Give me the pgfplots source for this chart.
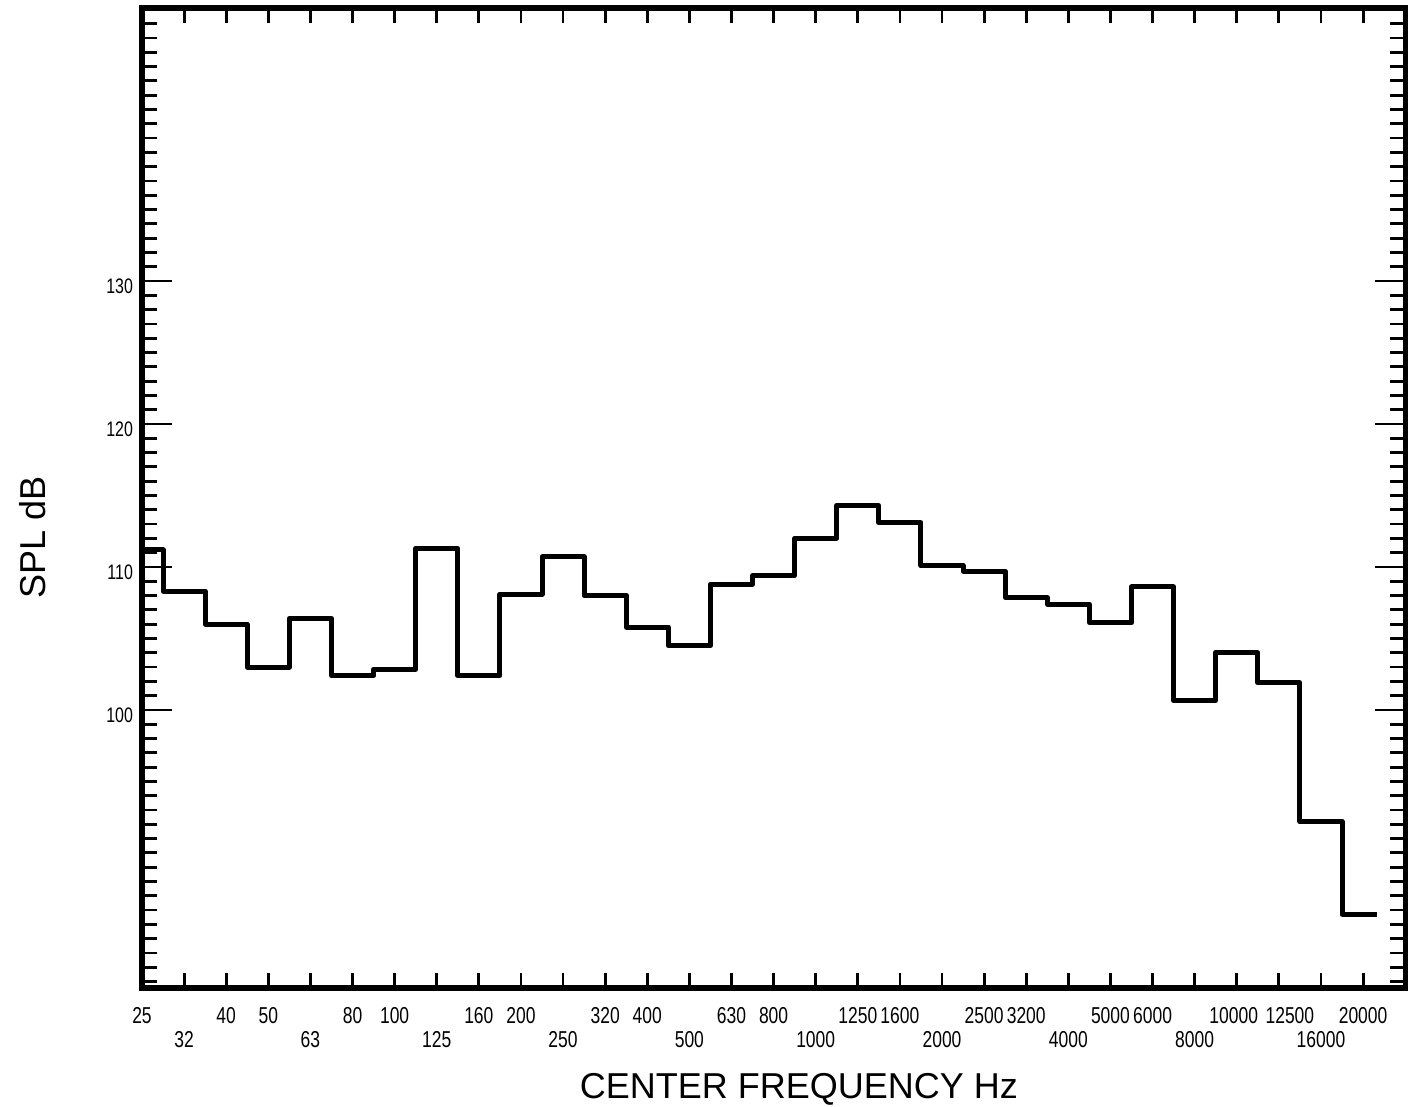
\documentclass[border=0pt]{standalone}
\usepackage{pgfplots}
\pgfplotsset{compat=1.18}
\usepackage{pgfplotstable}
\usepackage{fontspec}
\setmainfont{Liberation Sans}
% narrow lettering for the band numbers
\newfontfamily\bandfont[FakeStretch=0.76]{Liberation Sans}

% One-third octave band levels; band index 0 = 25 Hz ... 29 = 20000 Hz
\pgfplotstableread{
band spl
0     111.2
1     108.3
2     106.0
3     103.0
4     106.4
5     102.4
6     102.85
7     111.3
8     102.4
9     108.1
10    110.7
11    108.0
12    105.8
13    104.5
14    108.8
15    109.4
16    112.0
17    114.3
18    113.1
19    110.1
20    109.7
21    107.85
22    107.4
23    106.1
24    108.6
25    100.65
26    104.0
27    101.9
28    92.2
29    85.7
29.33 85.7
}\spectrum

\begin{document}
\begin{tikzpicture}
\useasboundingbox (0,0) rectangle (704pt,553.5pt);
\begin{axis}[
  at={(71pt,59.5pt)}, anchor=south west,
  scale only axis, width=631.6pt, height=490pt,
  xmin=0, xmax=30, ymin=80.55, ymax=149.1,
  axis line style={line width=2.6pt, line cap=round},
  tick style={black, line width=1.4pt},
  major tick length=15pt, minor tick length=7.5pt,
  % band ticks on top and bottom
  minor xtick={1,...,29},
  every major x tick/.append style={draw=none},
  xtick={0,2,3,5,6,8,9,11,12,14,15,17,18,20,21,23,24,26,27,29},
  xticklabels={25,40,50,80,100,160,200,320,400,630,800,1250,1600,2500,3200,5000,6000,10000\hspace*{3pt},\hspace*{11pt}12500,20000},
  extra x ticks={1,4,7,10,13,16,19,22,25,28},
  extra x tick labels={32,63,125,250,500,1000,2000,4000,8000,16000},
  extra x tick style={xticklabel style={yshift=-12pt}},
  xticklabel style={font=\bandfont\fontsize{11.5}{13}\selectfont, yshift=-6pt},
  % 1 dB minor ticks, labelled every 10 dB
  ytick={100,110,120,130},
  yticklabels={100,110,120,130},
  minor ytick={81,...,148},
  yticklabel style={font=\bandfont\fontsize{10.5}{12}\selectfont, xshift=-1pt, yshift=-2.5pt},
  xlabel={CENTER FREQUENCY Hz},
  xlabel style={font=\fontsize{18}{20}\selectfont, at={(axis description cs:0.52,-0.103)}, anchor=center},
  ylabel={SPL dB},
  ylabel style={font=\fontsize{18}{20}\selectfont, at={(axis description cs:-0.0865,0.46)}, anchor=center, rotate=0},
]
\addplot[black, line width=2.5pt, line join=round, const plot mark mid] table[x=band, y=spl] {\spectrum};
\end{axis}
\end{tikzpicture}
\end{document}
